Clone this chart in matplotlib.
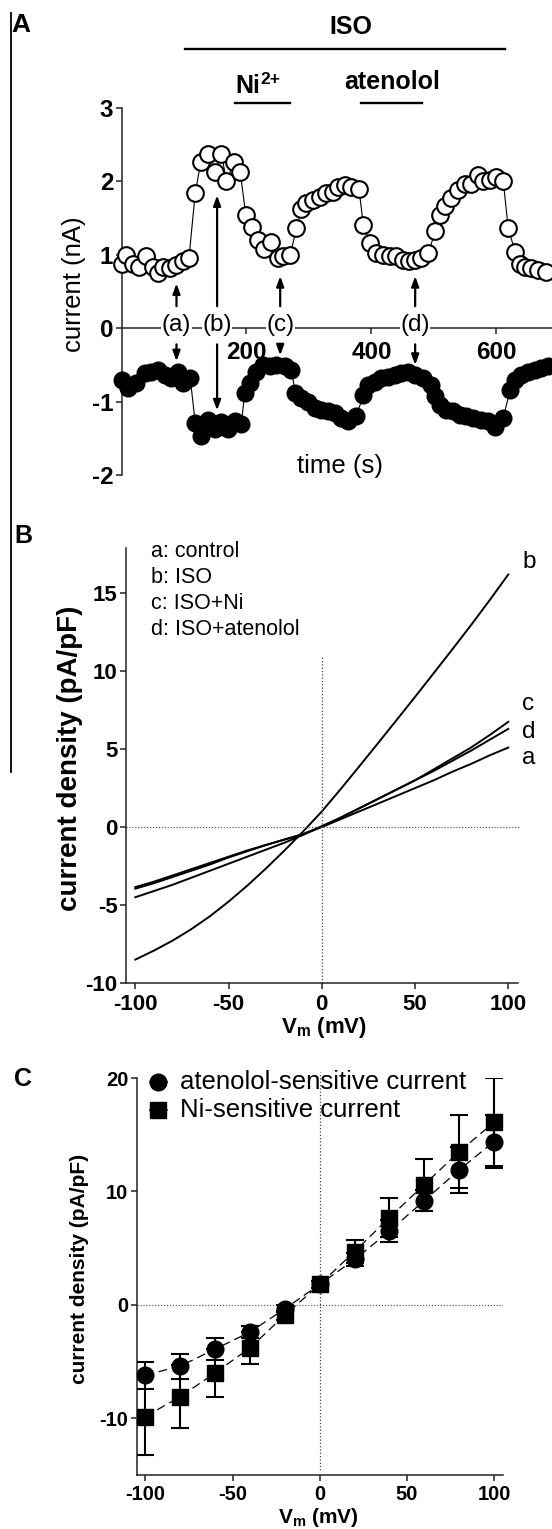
import matplotlib
matplotlib.use('Agg')
import matplotlib.pyplot as plt
from matplotlib.lines import Line2D

plt.rcParams['font.family'] = ['Liberation Sans', 'DejaVu Sans']
plt.rcParams['axes.unicode_minus'] = False
plt.rcParams['mathtext.fontset'] = 'custom'
plt.rcParams['mathtext.rm'] = 'Liberation Sans'
plt.rcParams['mathtext.bf'] = 'Liberation Sans:bold'
plt.rcParams['mathtext.it'] = 'Liberation Sans:italic'

# ---- panel A: time course (s, nA) ----
t_open = [0, 8, 19, 28, 39, 50, 59, 67, 78, 88, 98, 108,
          118, 127, 139, 150, 160, 168, 180, 190,
          199, 209, 219, 228, 239, 250, 259, 270,
          280, 288, 296, 307, 318, 328, 339, 347, 358, 368, 380,
          387, 398, 408, 419, 430, 440, 451, 460, 470, 480, 491,
          502, 510, 518, 528, 539, 550, 560, 571, 579, 590, 600, 611,
          619, 630, 638, 646, 656, 667, 680]
I_open = [0.88, 1.0, 0.88, 0.84, 0.98, 0.84, 0.75, 0.84, 0.82, 0.86, 0.91, 0.96,
          1.84, 2.27, 2.38, 2.13, 2.38, 2.0, 2.26, 2.13,
          1.54, 1.38, 1.2, 1.08, 1.18, 0.96, 0.99, 1.0,
          1.36, 1.63, 1.7, 1.75, 1.79, 1.84, 1.86, 1.93, 1.95, 1.93, 1.9,
          1.41, 1.16, 1.02, 1.0, 0.99, 0.98, 0.93, 0.92, 0.93, 0.95, 1.02,
          1.32, 1.54, 1.66, 1.77, 1.88, 1.97, 1.97, 2.09, 2.0, 2.02, 2.06, 2.0,
          1.36, 1.04, 0.88, 0.84, 0.82, 0.79, 0.77]
t_fill = [0, 11, 24, 38, 48, 59, 70, 80, 91, 99, 110,
          118, 128, 139, 150, 160, 171, 182, 192,
          197, 206, 216, 227, 238, 248, 262, 272,
          278, 288, 299, 310, 320, 331, 342, 352, 363, 376,
          387, 395, 406, 416, 427, 438, 448, 459, 470, 483, 496,
          502, 510, 520, 531, 542, 552, 563, 576, 587, 598, 611,
          622, 630, 640, 651, 662, 672, 683]
I_fill = [-0.70, -0.82, -0.75, -0.61, -0.59, -0.57, -0.64, -0.68, -0.59, -0.75, -0.68,
          -1.29, -1.47, -1.25, -1.38, -1.28, -1.38, -1.27, -1.30,
          -0.88, -0.75, -0.59, -0.50, -0.52, -0.50, -0.52, -0.57,
          -0.88, -0.95, -1.00, -1.09, -1.11, -1.13, -1.16, -1.22, -1.27, -1.20,
          -0.91, -0.77, -0.73, -0.68, -0.66, -0.64, -0.61, -0.59, -0.64, -0.68, -0.77,
          -0.93, -1.04, -1.11, -1.13, -1.18, -1.20, -1.22, -1.25, -1.27, -1.34, -1.22,
          -0.84, -0.70, -0.64, -0.59, -0.57, -0.54, -0.52]
mark_labels = ['(a)', '(b)', '(c)', '(d)']
mark_t = [88, 153, 254, 470]
mark_up = [0.61, 1.81, 0.71, 0.71]
mark_dn = [-0.45, -1.12, -0.37, -0.50]
# drug application bars: (label, start, end)
bars = [('ISO', 102, 614), ('Ni', 182, 270), ('atenolol', 384, 481)]

# ---- panel B: I-V ramps (mV, pA/pF) ----
vm = [-100, -90, -80, -70, -60, -50, -40, -30, -20, -10, 0,
      10, 20, 30, 40, 50, 60, 70, 80, 90, 100]
iv_a = [-3.85, -3.5, -3.1, -2.7, -2.3, -1.9, -1.5, -1.15, -0.8, -0.45, 0.0,
        0.5, 1.0, 1.5, 2.0, 2.5, 3.0, 3.55, 4.05, 4.6, 5.1]
iv_b = [-8.5, -7.92, -7.28, -6.55, -5.72, -4.78, -3.76, -2.66, -1.5, -0.28, 1.0,
        2.42, 3.88, 5.36, 6.85, 8.35, 9.87, 11.4, 12.95, 14.55, 16.2]
iv_c = [-3.95, -3.6, -3.2, -2.8, -2.4, -1.95, -1.55, -1.15, -0.8, -0.45, 0.05,
        0.6, 1.2, 1.8, 2.4, 3.0, 3.7, 4.4, 5.1, 5.9, 6.75]
iv_d = [-4.5, -4.1, -3.7, -3.25, -2.8, -2.35, -1.9, -1.45, -1.0, -0.5, 0.05,
        0.6, 1.2, 1.8, 2.4, 3.0, 3.6, 4.25, 4.9, 5.6, 6.3]
legend_b = ['a: control', 'b: ISO', 'c: ISO+Ni', 'd: ISO+atenolol']

# ---- panel C: sensitive currents (mean, SEM) ----
v_steps = [-100, -80, -60, -40, -20, 0, 20, 40, 60, 80, 100]
aten = [-6.2, -5.4, -3.9, -2.4, -0.35, 1.8, 4.0, 6.5, 9.2, 11.9, 14.4]
aten_err = [1.2, 1.1, 1.0, 0.5, 0.3, 0.3, 0.6, 1.0, 0.9, 2.0, 2.3]
ni = [-9.85, -8.1, -6.0, -3.8, -0.9, 1.8, 4.7, 7.7, 10.6, 13.5, 16.1]
ni_err = [3.4, 2.8, 2.1, 1.4, 0.4, 0.3, 1.0, 1.7, 2.3, 3.2, 3.9]

W, H = 552, 1529
fig = plt.figure(figsize=(W / 100, H / 100), dpi=100)


def box(l, t, r, b):
    return [l / W, 1 - b / H, (r - l) / W, (b - t) / H]


axA = fig.add_axes(box(121.5, 108, 552, 475))
axB = fig.add_axes(box(126, 548, 517.6, 983))
axC = fig.add_axes(box(136.6, 1078, 502.8, 1475))

for ax in (axA, axB, axC):
    ax.spines['top'].set_visible(False)
    ax.spines['right'].set_visible(False)
    for s in ('left', 'bottom'):
        ax.spines[s].set_linewidth(1.1)
        ax.spines[s].set_color('#222222')
    ax.tick_params(width=1.1, length=4, color='#222222')

# ---------- A ----------
axA.plot(t_open, I_open, color='black', lw=0.8, marker='o', ms=12,
         mfc='white', mec='black', mew=1.5, clip_on=False, zorder=4)
axA.plot(t_fill, I_fill, color='black', lw=0.8, marker='o', ms=12,
         mfc='black', mec='black', mew=1.0, clip_on=False, zorder=4)
axA.set_xlim(0, 689)
axA.set_ylim(-2, 3)
axA.spines['bottom'].set_position(('data', 0))
axA.set_xticks([200, 400, 600])
axA.set_yticks([-2, -1, 0, 1, 2, 3])
axA.tick_params(axis='x', pad=5)
axA.tick_params(axis='y', pad=2)
for lab in axA.get_xticklabels() + axA.get_yticklabels():
    lab.set_fontsize(17.5)
    lab.set_fontweight('bold')
axA.set_ylabel('current (nA)', fontsize=18.5)
axA.yaxis.set_label_coords(-0.11, 0.52)
axA.yaxis.label.set_va('center')
axA.text(350, -1.88, 'time (s)', fontsize=18.5, ha='center', va='center')

for lab, t, up, dn in zip(mark_labels, mark_t, mark_up, mark_dn):
    axA.text(t, 0.05, lab, fontsize=17.5, ha='center', va='center', zorder=6,
             bbox=dict(fc='white', ec='none', pad=0.3))
    axA.annotate('', xy=(t, up), xytext=(t, 0.3), zorder=6,
                 arrowprops=dict(arrowstyle='-|>,head_length=0.6,head_width=0.22',
                                 lw=1.6, color='black', shrinkA=0, shrinkB=0))
    axA.annotate('', xy=(t, dn), xytext=(t, -0.22), zorder=6,
                 arrowprops=dict(arrowstyle='-|>,head_length=0.6,head_width=0.22',
                                 lw=1.6, color='black', shrinkA=0, shrinkB=0))

bar_y = [3.81, 3.07, 3.07]
for (name, t0, t1), y in zip(bars, bar_y):
    axA.plot([t0, t1], [y, y], color='black', lw=1.7, clip_on=False)
axA.text(367, 4.10, 'ISO', fontsize=18, fontweight='bold', ha='center', va='center')
axA.text(222, 3.2, 'Ni', fontsize=18, fontweight='bold', ha='right', va='baseline')
axA.text(223, 3.33, '2+', fontsize=12.5, fontweight='bold', ha='left', va='baseline')
axA.text(434, 3.26, 'atenolol', fontsize=18, fontweight='bold', ha='center', va='baseline')

# ---------- B ----------
for yv in (iv_b, iv_a, iv_c, iv_d):
    axB.plot(vm, yv, color='black', lw=1.4)
axB.plot([-105, 105.5], [0, 0], color='#444444', lw=0.8, ls=':', clip_on=False)
axB.plot([0, 0], [-10, 10.9], color='#444444', lw=0.9, ls=':')
axB.set_xlim(-105, 105)
axB.set_ylim(-10, 17.9)
axB.set_xticks([-100, -50, 0, 50, 100])
axB.set_yticks([-10, -5, 0, 5, 10, 15])
axB.tick_params(axis='x', pad=4)
axB.tick_params(axis='y', pad=2)
for lab in axB.get_xticklabels() + axB.get_yticklabels():
    lab.set_fontsize(16)
    lab.set_fontweight('bold')
axB.set_ylabel('current density (pA/pF)', fontsize=20, fontweight='bold')
axB.yaxis.set_label_coords(-0.143, 0.517)
axB.yaxis.label.set_va('center')
axB.set_xlabel(r'$\mathbf{V_m}$ (mV)', fontsize=16, fontweight='bold')
axB.xaxis.set_label_coords(0.506, -0.103)
axB.xaxis.label.set_va('center')
for i, s in enumerate(legend_b):
    axB.text(-91.4, 17.7 - 1.67 * i, s, fontsize=15.5, ha='left', va='center')
for s, yv in zip(['b', 'c', 'd', 'a'], [17.0, 7.9, 6.1, 4.4]):
    axB.text(107.5, yv, s, fontsize=17.5, ha='left', va='center', clip_on=False)

# ---------- C ----------
axC.plot([-105, 105], [0, 0], color='#444444', lw=0.8, ls=':')
axC.plot([0, 0], [-14.6, 20.5], color='#444444', lw=0.9, ls=':', clip_on=False)
axC.errorbar(v_steps, aten, yerr=aten_err, fmt='o', ms=12, color='black',
             ecolor='black', elinewidth=1.5, capsize=6.5, capthick=1.5, zorder=4)
axC.errorbar(v_steps, ni, yerr=ni_err, fmt='s', ms=11, color='black',
             ecolor='black', elinewidth=1.5, capsize=6.5, capthick=1.5, zorder=4)
axC.plot(v_steps, aten, color='black', lw=0.9, ls=(0, (7, 4)), zorder=3)
axC.plot(v_steps, ni, color='black', lw=0.9, ls=(0, (7, 4)), zorder=3)
axC.set_xlim(-105, 105)
axC.set_ylim(-15, 20)
axC.set_xticks([-100, -50, 0, 50, 100])
axC.set_yticks([-10, 0, 10, 20])
axC.tick_params(axis='x', pad=3)
axC.tick_params(axis='y', pad=2)
for lab in axC.get_xticklabels() + axC.get_yticklabels():
    lab.set_fontsize(14.5)
    lab.set_fontweight('bold')
axC.set_ylabel('current density (pA/pF)', fontsize=15, fontweight='bold')
axC.yaxis.set_label_coords(-0.157, 0.52)
axC.yaxis.label.set_va('center')
axC.set_xlabel(r'$\mathbf{V_m}$ (mV)', fontsize=15, fontweight='bold')
axC.xaxis.set_label_coords(0.497, -0.108)
axC.xaxis.label.set_va('center')
leg_y = [19.65, 17.2]
for mk, ms, y, s in zip(['o', 's'], [12, 11], leg_y,
                        ['atenolol-sensitive current', 'Ni-sensitive current']):
    axC.plot([-97.5, -87.5], [y, y], color='black', lw=1.2, clip_on=False)
    axC.plot([-92.6], [y], marker=mk, ms=ms, color='black', clip_on=False)
    axC.text(-80, y, s, fontsize=18.5, ha='left', va='center')

# ---------- panel letters and left rule ----------
fig.text(11 / W, 1 - 13 / H, 'A', fontsize=19, fontweight='bold', ha='left', va='top')
fig.text(14 / W, 1 - 524 / H, 'B', fontsize=18, fontweight='bold', ha='left', va='top')
fig.text(14 / W, 1 - 1067 / H, 'C', fontsize=18, fontweight='bold', ha='left', va='top')
fig.add_artist(Line2D([10.5 / W, 10.5 / W], [1 - 13 / H, 1 - 772 / H],
                      transform=fig.transFigure, color='black', lw=1.3))

fig.savefig('out.png', dpi=100)
